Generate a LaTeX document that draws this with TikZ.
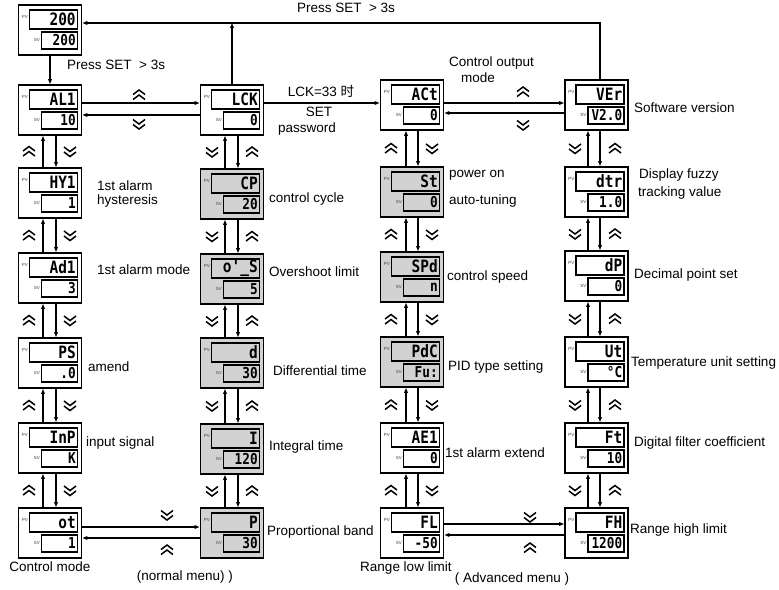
\documentclass[tikz,border=0pt]{standalone}
\usepackage{fontspec}
\setmainfont{Liberation Sans}
\newfontfamily\segfont{DejaVu Sans Mono}
\newfontfamily\cjkfont{Noto Sans CJK SC}
\usetikzlibrary{arrows.meta,calc}
\definecolor{boxgray}{RGB}{210,210,210}
\newcommand\segtxt[1]{\scalebox{0.85}[1]{#1}}
\newcommand\disp[5]{%
  \node[obox, fill=#3] (#1) at (#2) {};
  \node[pvb, fill=#3, anchor=north east] (#1-pv) at ([xshift=-4pt,yshift=-5pt]#1.north east) {};
  \node[svb, fill=#3, anchor=north east] (#1-sv) at ([xshift=-4pt,yshift=-27pt]#1.north east) {};
  \node[segpv] (#1-pvt) at ([xshift=-2.5pt]#1-pv.east) {\segtxt{#4}};
  \node[segsv] (#1-svt) at ([xshift=-2.5pt]#1-sv.east) {\segtxt{#5}};
  \node[tagl] (#1-pvl) at ([xshift=-0.8pt,yshift=2pt]#1-pv.west) {PV};
  \node[tagl] (#1-svl) at ([xshift=-0.8pt]#1-sv.west) {SV};
}
\begin{document}
\begin{tikzpicture}[x=1pt,y=-1pt,
  obox/.style={draw, line width=1.8pt, minimum width=63pt, minimum height=50pt, inner sep=0pt},
  pvb/.style={draw, line width=1.5pt, minimum width=48pt, minimum height=19pt, inner sep=0pt},
  svb/.style={draw, line width=1.5pt, minimum width=36pt, minimum height=17pt, inner sep=0pt},
  segpv/.style={font=\segfont\bfseries\fontsize{17}{17}\selectfont, inner sep=0pt, anchor=east},
  segsv/.style={font=\segfont\bfseries\fontsize{15}{15}\selectfont, inner sep=0pt, anchor=east},
  tagl/.style={font=\fontsize{4.5}{4.5}\selectfont, text=black!75, inner sep=0pt, anchor=east},
  lbl/.style={font=\fontsize{13.5}{15}\selectfont, inner sep=0pt, anchor=west},
  clbl/.style={font=\fontsize{13.5}{15}\selectfont, inner sep=0pt},
  arr/.style={line width=1.2pt, -{Triangle[length=5pt,width=3.6pt]}},
  chev/.style={line width=1.5pt},
  chevup/.pic={\draw[chev] (-6,-0.5)--(0,-5)--(6,-0.5); \draw[chev] (-6,4.5)--(0,0)--(6,4.5);},
  chevdown/.pic={\draw[chev] (-6,0.5)--(0,5)--(6,0.5); \draw[chev] (-6,-4.5)--(0,0)--(6,-4.5);}
]
\useasboundingbox (0,0) rectangle (779,589);
% column 1
\disp{top}{50,30}{white}{200}{200}
\disp{AL1}{50,110}{white}{AL1}{10}
\disp{HY1}{50,193}{white}{HY1}{1}
\disp{Ad1}{50,278}{white}{Ad1}{3}
\disp{PS}{50,363}{white}{PS}{.0}
\disp{InP}{50,448}{white}{InP}{K}
\disp{ot}{50,533}{white}{ot}{1}
% column 2
\disp{LCK}{232,110}{white}{LCK}{0}
\disp{CP}{232,194}{boxgray}{CP}{20}
\disp{OS}{232,279}{boxgray}{o'\_S}{5}
\disp{dd}{232,363}{boxgray}{d}{30}
\disp{II}{232,449}{boxgray}{I}{120}
\disp{PP}{232,533}{boxgray}{P}{30}
% column 3
\disp{ACt}{412,105}{white}{ACt}{0}
\disp{St}{412,192}{boxgray}{St}{0}
\disp{SPd}{412,277}{boxgray}{SPd}{n}
\disp{PdC}{412,362}{boxgray}{PdC}{Fu:}
\disp{AE1}{412,448}{white}{AE1}{0}
\disp{FL}{412,533}{white}{FL}{-50}
% column 4
\disp{VEr}{596.5,105}{white}{VEr}{V2.0}
\disp{dtr}{596.5,192}{white}{dtr}{1.0}
\disp{dP}{596.5,276}{white}{dP}{0}
\disp{Ut}{596.5,362}{white}{Ut}{°C}
\disp{Ft}{596.5,448}{white}{Ft}{10}
\disp{FH}{596.5,533}{white}{FH}{1200}

% vertical connectors
\foreach \a/\b in {AL1/HY1,HY1/Ad1,Ad1/PS,PS/InP,InP/ot}{
  \draw[arr] ([xshift=-7pt]\b.north) -- ([xshift=-7pt]\a.south);
  \draw[arr] ([xshift=6pt]\a.south) -- ([xshift=6pt]\b.north);
  \pic at ($(\a.south)!0.5!(\b.north)+(-21,0)$) {chevup};
  \pic at ($(\a.south)!0.5!(\b.north)+(20,0)$) {chevdown};
}
\foreach \a/\b in {LCK/CP,CP/OS,OS/dd,dd/II,II/PP}{
  \draw[arr] ([xshift=-7pt]\b.north) -- ([xshift=-7pt]\a.south);
  \draw[arr] ([xshift=6pt]\a.south) -- ([xshift=6pt]\b.north);
  \pic at ($(\a.south)!0.5!(\b.north)+(-20,0)$) {chevdown};
  \pic at ($(\a.south)!0.5!(\b.north)+(20,0)$) {chevup};
}
\foreach \a/\b in {ACt/St,St/SPd,SPd/PdC,PdC/AE1,AE1/FL}{
  \draw[arr] ([xshift=-6pt]\b.north) -- ([xshift=-6pt]\a.south);
  \draw[arr] ([xshift=6pt]\a.south) -- ([xshift=6pt]\b.north);
  \pic at ($(\a.south)!0.5!(\b.north)+(-21,0)$) {chevup};
  \pic at ($(\a.south)!0.5!(\b.north)+(20,0)$) {chevdown};
}
\foreach \a/\b in {VEr/dtr,dtr/dP,dP/Ut,Ut/Ft,Ft/FH}{
  \draw[arr] ([xshift=-8.5pt]\b.north) -- ([xshift=-8.5pt]\a.south);
  \draw[arr] ([xshift=3.5pt]\a.south) -- ([xshift=3.5pt]\b.north);
  \pic at ($(\a.south)!0.5!(\b.north)+(-21.5,0)$) {chevdown};
  \pic at ($(\a.south)!0.5!(\b.north)+(18.5,0)$) {chevup};
}

% horizontal connectors
\draw[arr] (top.south) -- (AL1.north);
\draw[arr] ([yshift=7pt]AL1.east) -- ([yshift=7pt]LCK.west);
\draw[arr] ([yshift=-5pt]LCK.west) -- ([yshift=-5pt]AL1.east);
\pic at (139,95) {chevup};
\pic at (139,124) {chevdown};
\draw[arr] ([yshift=7pt]LCK.east) -- ([yshift=2pt]ACt.west);
\draw[arr] ([yshift=2pt]ACt.east) -- ([yshift=2pt]VEr.west);
\draw[arr] ([yshift=-8pt]VEr.west) -- ([yshift=-8pt]ACt.east);
\pic at (523,92) {chevup};
\pic at (523,125) {chevdown};
\draw[arr] ([yshift=6pt]ot.east) -- ([yshift=6pt]PP.west);
\draw[arr] ([yshift=-5pt]PP.west) -- ([yshift=-5pt]ot.east);
\pic at (167,515) {chevdown};
\pic at (167,550) {chevup};
\draw[arr] ([yshift=9pt]FL.east) -- ([yshift=9pt]FH.west);
\draw[arr] ([yshift=-2pt]FH.west) -- ([yshift=-2pt]FL.east);
\pic at (530,517) {chevdown};
\pic at (530,548) {chevup};
% top loop
\coordinate (tl) at (0,23);
\draw[arr] ([xshift=3.5pt]VEr.north) |- ([yshift=7pt]top.east);
\draw[arr] (LCK.north) -- (LCK.north |- tl);

% labels
\node[clbl] (t1) at (346,8) {Press SET\ \ > 3s};
\node[lbl] (t2) at (67,65) {Press SET\ \ > 3s};
\node[lbl] (l1) at (97,186) {1st alarm};
\node[lbl] (l2) at (97,201) {hysteresis};
\node[lbl] (l3) at (97,270) {1st alarm mode};
\node[lbl] (l4) at (88,367) {amend};
\node[lbl] (l5) at (86,443) {input signal};
\node[clbl] (l6) at (50,567) {Control mode};
\node[clbl] (l7) at (185,577) {(normal menu) )};
\node[clbl] (k1) at (321,91) {LCK=33 {\cjkfont 时}};
\node[clbl] (k2) at (319,112) {SET};
\node[clbl] (k3) at (307,129) {password};
\node[lbl] (m1) at (269,199) {control cycle};
\node[lbl] (m2) at (269,272) {Overshoot limit};
\node[lbl] (m3) at (273,371) {Differential time};
\node[lbl] (m4) at (269,447) {Integral time};
\node[lbl] (m5) at (267,532) {Proportional band};
\node[lbl] (n1) at (449,63) {Control output};
\node[lbl] (n2) at (461,78) {mode};
\node[lbl] (n3) at (449,175) {power on};
\node[lbl] (n4) at (449,201) {auto-tuning};
\node[lbl] (n5) at (447,277) {control speed};
\node[lbl] (n6) at (448,367) {PID type setting};
\node[lbl] (n7) at (445,453) {1st alarm extend};
\node[clbl] (n8) at (406,568) {Range low limit};
\node[clbl] (n9) at (512,579) {( Advanced menu )};
\node[lbl] (p1) at (634,108) {Software version};
\node[lbl] (p2) at (639,175) {Display fuzzy};
\node[lbl] (p3) at (638,193) {tracking value};
\node[lbl] (p4) at (634,275) {Decimal point set};
\node[lbl] (p5) at (631,363) {Temperature unit setting};
\node[lbl] (p6) at (634,443) {Digital filter coefficient};
\node[lbl] (p7) at (630,530) {Range high limit};
\end{tikzpicture}
\end{document}
